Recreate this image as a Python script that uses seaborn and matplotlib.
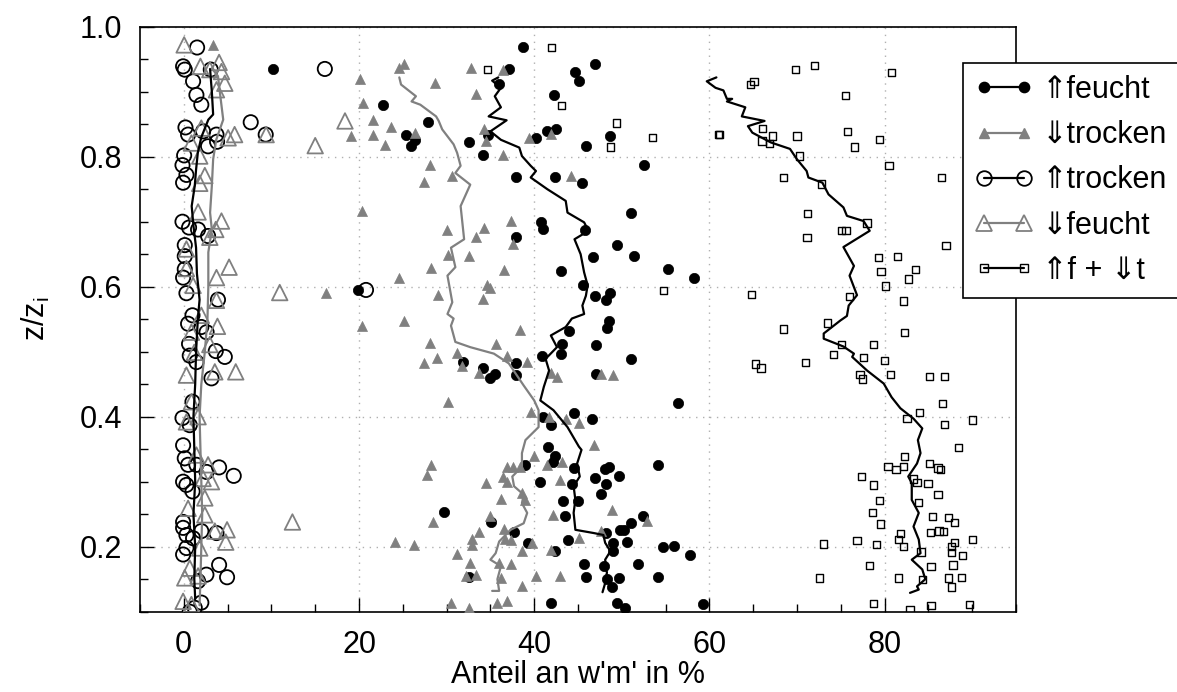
import matplotlib
matplotlib.use("Agg")
import matplotlib.pyplot as plt
import seaborn as sns
from matplotlib.lines import Line2D
from matplotlib.ticker import MultipleLocator

# ---------------- data ----------------
# ⇑feucht (filled black circles)
fu_x = [10.2, 22.7, 27.9, 25.4, 26.4, 25.9, 19.9,
        38.75, 37.1, 36.0, 44.65, 46.96, 45.1, 42.25, 41.5, 42.5, 40.2, 34.7, 32.6, 34.1, 48.6, 45.9, 52.5,
        37.95, 42.4, 45.5, 51.0, 40.8, 41.0, 37.95, 45.8, 49.5, 46.7, 51.4, 43.1, 55.25, 58.2, 45.6, 46.9,
        48.6, 48.2,
        48.5, 48.3, 44.0, 43.2, 47.1, 43.1, 40.9, 51.0, 31.9, 34.2, 37.9, 35.5, 34.95, 37.9, 47.1, 56.4,
        44.5, 46.6, 41.0, 41.9, 41.6, 42.4, 42.1, 39.0, 44.6, 48.5, 48.1, 54.1, 49.7, 46.9, 40.7, 44.3,
        48.2, 47.6, 43.3, 45.0, 43.5, 29.7, 35.1, 52.4, 51.1, 49.8, 50.3, 48.2, 37.7, 43.9, 49.0, 50.6,
        39.3, 54.7, 56.0, 57.8, 42.4, 49.0, 45.7, 48.0, 51.8, 45.9, 48.3, 49.7, 54.1, 48.9, 32.5, 41.9,
        49.5, 50.4, 59.25]
fu_y = [0.935, 0.880, 0.853, 0.833, 0.825, 0.816, 0.595,
        0.969, 0.935, 0.912, 0.931, 0.942, 0.917, 0.895, 0.840, 0.843, 0.829, 0.834, 0.822, 0.802, 0.832, 0.816, 0.787,
        0.769, 0.769, 0.759, 0.714, 0.700, 0.689, 0.676, 0.687, 0.664, 0.646, 0.647, 0.624, 0.628, 0.613, 0.602, 0.585,
        0.590, 0.579,
        0.547, 0.537, 0.532, 0.512, 0.511, 0.497, 0.493, 0.489, 0.484, 0.475, 0.482, 0.466, 0.459, 0.464, 0.466, 0.421,
        0.406, 0.396, 0.400, 0.388, 0.354, 0.340, 0.330, 0.325, 0.321, 0.322, 0.320, 0.325, 0.309, 0.305, 0.299, 0.296,
        0.297, 0.281, 0.271, 0.270, 0.248, 0.254, 0.238, 0.247, 0.236, 0.226, 0.225, 0.221, 0.223, 0.210, 0.206, 0.208,
        0.205, 0.200, 0.201, 0.187, 0.194, 0.194, 0.173, 0.171, 0.173, 0.154, 0.150, 0.152, 0.154, 0.138, 0.153, 0.113,
        0.113, 0.105, 0.112]
fu_line_x = [35.9, 35.2, 36.2, 35.5, 36.2, 34.8, 36.85, 35.0, 36.2, 38.3, 38.6, 39.6, 40.2, 39.6, 41.5, 43.6,
             43.8, 45.7, 46.2, 44.6, 45.3, 45.7, 46.1, 45.9, 45.5, 45.7, 44.3, 43.6, 41.9, 42.6, 41.3, 41.7,
             41.1, 40.7, 42.2, 43.8, 45.1, 45.4, 44.9, 45.2, 44.5, 44.7, 44.5, 44.7, 46.8, 47.9, 48.1, 48.7,
             48.1, 48.3, 48.1, 47.8]
fu_line_y = [0.922, 0.917, 0.906, 0.893, 0.876, 0.862, 0.856, 0.839, 0.826, 0.814, 0.801, 0.786, 0.778, 0.768,
             0.750, 0.732, 0.714, 0.699, 0.686, 0.673, 0.650, 0.622, 0.602, 0.586, 0.571, 0.558, 0.551, 0.538,
             0.525, 0.507, 0.489, 0.471, 0.446, 0.425, 0.410, 0.384, 0.354, 0.349, 0.328, 0.308, 0.293, 0.272,
             0.252, 0.226, 0.221, 0.218, 0.206, 0.193, 0.180, 0.160, 0.144, 0.130]

# ⇓trocken (filled grey triangles)
td_x = [3.35, 20.1, 24.6, 25.1, 28.7, 20.5, 21.6, 23.7, 19.1, 21.6, 23.0, 26.35, 28.1, 27.4, 20.3, 28.25, 24.6,
        16.2, 29.0,
        20.3, 25.1, 28.1, 27.4, 28.9, 28.2, 27.8, 28.4, 24.1, 26.3,
        32.8, 36.4, 33.4, 34.3, 34.5, 39.4, 41.9, 36.4, 30.65, 44.2, 37.3, 34.3, 30.0, 33.3, 37.6, 30.2, 32.6,
        36.55, 34.6, 34.9, 34.1,
        38.4, 35.6, 31.15, 36.85, 39.2, 31.8, 33.7, 41.9, 42.55, 47.6, 49.0, 30.2, 39.6, 41.7, 43.6, 45.1, 46.8,
        39.95, 41.5, 43.2, 36.85, 37.6, 38.4, 36.4, 36.9, 34.45, 43.0, 38.6, 39.0, 36.2, 48.9, 42.2, 35.0, 52.9,
        36.5, 33.7, 32.9, 32.9, 36.7, 37.4, 45.1, 47.6, 39.8, 38.6, 41.9, 31.2, 32.7, 36.0, 37.3, 32.25, 33.3,
        36.2, 40.2, 43.0, 38.6, 30.5, 32.55, 35.8, 36.85]
td_y = [0.972, 0.919, 0.936, 0.942, 0.914, 0.882, 0.856, 0.846, 0.832, 0.834, 0.818, 0.837, 0.788, 0.761, 0.717,
        0.629, 0.614, 0.590, 0.587,
        0.539, 0.547, 0.513, 0.483, 0.490, 0.326, 0.311, 0.238, 0.207, 0.202,
        0.936, 0.933, 0.897, 0.842, 0.824, 0.829, 0.835, 0.803, 0.770, 0.771, 0.701, 0.690, 0.688, 0.677, 0.665,
        0.649, 0.648, 0.626, 0.603, 0.598, 0.581,
        0.533, 0.512, 0.498, 0.494, 0.484, 0.478, 0.467, 0.467, 0.461, 0.465, 0.464, 0.423, 0.408, 0.400, 0.397,
        0.390, 0.356, 0.340, 0.326, 0.331, 0.322, 0.322, 0.322, 0.307, 0.299, 0.298, 0.302, 0.283, 0.272, 0.273,
        0.256, 0.249, 0.248, 0.240, 0.227, 0.223, 0.212, 0.202, 0.212, 0.210, 0.213, 0.224, 0.206, 0.194, 0.195,
        0.189, 0.175, 0.175, 0.174, 0.155, 0.156, 0.152, 0.155, 0.155, 0.140, 0.114, 0.106, 0.114, 0.116]
td_line_x = [24.6, 24.8, 26.5, 26.0, 27.0, 28.8, 29.1, 29.5, 30.8, 31.2, 31.6, 31.0, 32.7, 31.6, 32.0, 30.5,
             31.0, 30.1, 30.65, 30.1, 30.8, 30.5, 31.0, 32.7, 35.4, 37.1, 37.9, 38.8, 40.0, 40.5, 40.5, 39.0,
             38.6, 38.6, 37.5, 37.7, 38.8, 38.6, 39.2, 38.8, 37.3, 36.0, 35.6, 35.0, 36.2, 35.8, 36.0, 35.2]
td_line_y = [0.922, 0.911, 0.893, 0.885, 0.880, 0.862, 0.855, 0.842, 0.819, 0.806, 0.786, 0.775, 0.757, 0.724,
             0.673, 0.660, 0.630, 0.617, 0.576, 0.558, 0.551, 0.540, 0.515, 0.507, 0.497, 0.482, 0.466, 0.448,
             0.425, 0.410, 0.384, 0.364, 0.344, 0.323, 0.308, 0.293, 0.280, 0.267, 0.252, 0.236, 0.226, 0.208,
             0.190, 0.180, 0.170, 0.150, 0.132, 0.132]

# ⇑trocken (open black circles)
tu_x = [1.52, -0.08, 0.11, 3.08, 1.06, 1.44, 2.0, 16.1, 7.64, 9.35, 0.19, 0.49, 2.2, 3.73, 3.8, 2.77, 0.04,
        -0.15, 0.3, -0.08, -0.15, 0.6, 1.63, 2.77, 0.11, 0.11, 0.11, -0.08, 0.3, 3.9, 0.99, 20.8,
        0.49, 2.0, 2.6, 0.6, 0.68, 3.65, 4.68, 1.44, 3.16, 0.99, -0.15, 0.68, -0.08, 0.11, 0.49, 1.44, 4.03,
        5.7, -0.08, 0.3, 1.0, 2.6, -0.08, -0.08, 0.3, 1.06, 2.0, 3.73, -0.08, 0.3, 4.03, 4.94, 1.63, 2.58,
        2.0, 1.25, 0.68]
tu_y = [0.968, 0.939, 0.934, 0.934, 0.916, 0.895, 0.880, 0.935, 0.853, 0.834, 0.845, 0.834, 0.839, 0.834, 0.823,
        0.816, 0.802, 0.787, 0.772, 0.760, 0.700, 0.691, 0.688, 0.678, 0.664, 0.647, 0.627, 0.614, 0.590, 0.580,
        0.556, 0.595,
        0.543, 0.538, 0.530, 0.512, 0.494, 0.501, 0.492, 0.484, 0.459, 0.423, 0.398, 0.387, 0.356, 0.336, 0.326,
        0.326, 0.322, 0.309, 0.300, 0.295, 0.285, 0.315, 0.238, 0.229, 0.218, 0.213, 0.224, 0.221, 0.188, 0.198,
        0.172, 0.153, 0.147, 0.157, 0.114, 0.106, 0.100]
tu_line_x = [3.0, 3.2, 3.35, 2.8, 2.0, 1.6, 1.4, 1.25, 0.9, 1.1, 1.4, 1.5, 1.8, 1.6, 1.4, 1.3, 1.1, 1.2,
             1.3, 1.1, 1.3, 1.2, 1.3]
tu_line_y = [0.935, 0.900, 0.865, 0.857, 0.830, 0.806, 0.780, 0.755, 0.724, 0.694, 0.660, 0.620, 0.580, 0.550,
             0.500, 0.450, 0.400, 0.350, 0.300, 0.250, 0.200, 0.150, 0.120]

# ⇓feucht (open grey triangles)
fd_x = [0.04, 1.9, 4.03, 4.3, 4.68, 2.97, 3.73, 18.4, 9.4, 15.0, 5.8, 5.06, 2.0, 0.87, 1.82, 2.4, 1.82, 1.63,
        4.3, 3.65, 2.97, 0.3, 0.3, 5.17, 3.73, 1.06, 10.95, 3.73, 2.0,
        3.84, 0.87, 2.97, 1.2, 5.93, 3.54, 0.3, 0.87, 1.63, 0.3, 1.44, 2.77, 2.2, 3.16, 2.4, 0.49, 2.4, 4.94,
        4.79, 3.54, 1.82, 0.68, 0.11, 1.63, -0.08, 0.87, 12.4]
fd_y = [0.972, 0.939, 0.945, 0.931, 0.913, 0.934, 0.903, 0.855, 0.834, 0.817, 0.834, 0.829, 0.844, 0.821, 0.801,
        0.771, 0.759, 0.715, 0.701, 0.688, 0.676, 0.658, 0.628, 0.630, 0.614, 0.602, 0.591, 0.579, 0.556,
        0.539, 0.530, 0.511, 0.499, 0.469, 0.469, 0.464, 0.423, 0.400, 0.392, 0.341, 0.326, 0.305, 0.300, 0.275,
        0.259, 0.249, 0.226, 0.207, 0.224, 0.198, 0.167, 0.152, 0.155, 0.116, 0.111, 0.238]
fd_line_x = [3.2, 3.9, 4.2, 4.5, 3.7, 3.35, 3.2, 3.0, 3.2, 2.8, 2.8, 2.7, 2.4, 2.0, 1.8, 1.9, 2.0, 2.1, 2.0,
             1.9, 1.8]
fd_line_y = [0.936, 0.924, 0.890, 0.857, 0.826, 0.796, 0.755, 0.714, 0.688, 0.653, 0.600, 0.550, 0.500, 0.450,
             0.400, 0.350, 0.300, 0.250, 0.200, 0.150, 0.110]

# ⇑f + ⇓t (open squares)
ft_x = [42.0, 34.7, 43.1, 49.4, 48.7, 53.5, 61.0, 54.8,
        72.0, 69.85, 80.8, 65.1, 64.7, 75.5, 61.15, 66.05, 67.2, 66.0, 66.85, 70.0, 75.8, 79.4, 76.6, 70.3,
        80.5, 86.5, 68.5, 72.8, 71.2, 78.0, 75.1, 75.6, 71.15, 87.0, 79.3, 81.5, 79.6, 83.5, 82.7, 80.1, 64.8,
        76.0, 82.2,
        73.5, 68.5, 82.25, 75.1, 78.7, 74.2, 77.6, 79.97, 65.25, 65.9, 71.0, 77.2, 77.5, 80.65, 85.1, 86.85,
        86.6, 83.96, 82.55, 86.8, 90.05, 88.4, 82.25, 80.4, 81.3, 82.2, 85.1, 86.1, 86.4, 77.4, 78.7, 83.3,
        83.7, 84.95, 86.1, 79.4, 83.85, 78.6, 85.5, 87.3, 88.0, 79.55, 81.8, 81.6, 85.2, 86.2, 86.7, 82.2,
        73.0, 76.85, 79.1, 84.15, 88.0, 90.05, 87.6, 87.6, 88.9, 78.3, 85.3, 87.8, 72.6, 81.6, 84.3, 87.3,
        88.8, 87.6, 78.7, 82.9, 85.3, 89.7]
ft_y = [0.968, 0.934, 0.879, 0.852, 0.815, 0.829, 0.834, 0.594,
        0.940, 0.934, 0.930, 0.916, 0.911, 0.894, 0.834, 0.843, 0.832, 0.824, 0.820, 0.832, 0.839, 0.827, 0.815,
        0.801, 0.786, 0.768, 0.768, 0.758, 0.713, 0.698, 0.687, 0.686, 0.676, 0.663, 0.645, 0.646, 0.623, 0.627,
        0.612, 0.601, 0.588, 0.585, 0.578,
        0.544, 0.535, 0.530, 0.511, 0.511, 0.496, 0.491, 0.487, 0.481, 0.475, 0.483, 0.465, 0.458, 0.465, 0.462,
        0.462, 0.420, 0.406, 0.397, 0.388, 0.395, 0.353, 0.339, 0.323, 0.319, 0.323, 0.328, 0.321, 0.319, 0.308,
        0.295, 0.304, 0.299, 0.297, 0.280, 0.271, 0.268, 0.253, 0.247, 0.245, 0.237, 0.235, 0.220, 0.211, 0.222,
        0.224, 0.223, 0.200, 0.204, 0.209, 0.203, 0.192, 0.207, 0.211, 0.200, 0.191, 0.186, 0.171, 0.170, 0.172,
        0.152, 0.152, 0.150, 0.152, 0.153, 0.138, 0.113, 0.103, 0.110, 0.111]
ft_line_x = [60.8, 59.7, 60.7, 61.6, 62.0, 62.6, 62.0, 64.1, 63.7, 66.3, 64.4, 64.9, 67.0, 69.2, 70.0, 71.1,
             71.3, 72.9, 73.6, 75.3, 75.7, 77.6, 78.3, 75.3, 76.5, 76.0, 76.85, 75.9, 75.7, 74.95, 73.05, 73.05,
             75.3, 76.5, 76.3, 78.0, 79.9, 80.8, 81.8, 83.3, 84.3, 83.8, 84.1, 83.7, 82.7, 83.1, 83.1, 83.9,
             83.3, 83.9, 84.1, 83.1, 84.3, 84.65, 83.7, 83.9, 82.9]
ft_line_y = [0.922, 0.916, 0.906, 0.902, 0.889, 0.889, 0.885, 0.876, 0.862, 0.855, 0.847, 0.837, 0.822, 0.812,
             0.796, 0.778, 0.768, 0.760, 0.742, 0.722, 0.709, 0.701, 0.686, 0.661, 0.632, 0.617, 0.587, 0.571,
             0.555, 0.548, 0.528, 0.520, 0.508, 0.497, 0.492, 0.471, 0.451, 0.430, 0.413, 0.397, 0.382, 0.364,
             0.344, 0.328, 0.308, 0.298, 0.272, 0.252, 0.231, 0.211, 0.190, 0.180, 0.165, 0.150, 0.139, 0.134,
             0.129]

labels = ["⇑feucht", "⇓trocken", "⇑trocken", "⇓feucht", "⇑f + ⇓t"]
x_ticks = [0, 20, 40, 60, 80]
y_ticks = [0.2, 0.4, 0.6, 0.8, 1.0]

# ---------------- style ----------------
sns.set_style("white")
plt.rcParams["font.family"] = ["Liberation Sans", "DejaVu Sans"]
plt.rcParams["mathtext.fontset"] = "custom"
plt.rcParams["mathtext.rm"] = "Liberation Sans"
plt.rcParams["mathtext.it"] = "Liberation Sans:italic"
for key in ["text.color", "axes.labelcolor", "xtick.color", "ytick.color"]:
    plt.rcParams[key] = "black"

GREY = "#808080"
FS = 22

fig = plt.figure(figsize=(11.77, 6.92), dpi=100)
ax = fig.add_axes([140 / 1177, 1 - 611.7 / 692, (1016 - 140) / 1177, (611.7 - 26.7) / 692])

series = [
    dict(x=fu_x, y=fu_y, lx=fu_line_x, ly=fu_line_y, marker="o", s=55, fc="black", ec="black", lw=0.5,
         lc="black", ms=7.4),
    dict(x=td_x, y=td_y, lx=td_line_x, ly=td_line_y, marker="^", s=52, fc=GREY, ec=GREY, lw=0.5,
         lc=GREY, ms=7.4),
    dict(x=tu_x, y=tu_y, lx=tu_line_x, ly=tu_line_y, marker="o", s=105, fc="none", ec="black", lw=1.3,
         lc="black", ms=10.5),
    dict(x=fd_x, y=fd_y, lx=fd_line_x, ly=fd_line_y, marker="^", s=125, fc="none", ec=GREY, lw=1.3,
         lc=GREY, ms=11),
    dict(x=ft_x, y=ft_y, lx=ft_line_x, ly=ft_line_y, marker="s", s=27, fc="none", ec="black", lw=1.0,
         lc="black", ms=5.2),
]

handles = []
for sd, lab in zip(series, labels):
    sns.scatterplot(x=sd["x"], y=sd["y"], marker=sd["marker"], s=sd["s"], facecolors=sd["fc"],
                    edgecolors=sd["ec"], linewidths=sd["lw"], ax=ax, legend=False, zorder=3)
    sns.lineplot(x=sd["lx"], y=sd["ly"], sort=False, estimator=None, color=sd["lc"], lw=1.6, ax=ax,
                 legend=False, zorder=4)
    handles.append(Line2D([0], [0], color=sd["lc"], lw=1.6, marker=sd["marker"], markersize=sd["ms"],
                          markerfacecolor=sd["fc"], markeredgecolor=sd["ec"],
                          markeredgewidth=max(sd["lw"], 1.0)))

ax.set_xlim(-5, 95)
ax.set_ylim(0.1, 1.0)
ax.set_xticks(x_ticks)
ax.set_yticks(y_ticks)
ax.set_yticklabels([f"{v:.1f}" for v in y_ticks])
ax.xaxis.set_minor_locator(MultipleLocator(5))
ax.yaxis.set_minor_locator(MultipleLocator(0.05))
ax.tick_params(which="major", direction="in", length=10, width=1, pad=13, labelsize=FS,
               bottom=True, left=True, top=False, right=False, colors="black")
ax.tick_params(which="minor", direction="in", length=6, width=1, bottom=True, left=True,
               top=False, right=False)
ax.grid(True, which="major", color="#b0b0b0", linestyle=(0, (1, 4)), lw=1)
for sp in ax.spines.values():
    sp.set_color("black")
    sp.set_linewidth(1.2)

ax.set_xlabel("Anteil an w'm' in %", fontsize=FS, labelpad=0)
ax.set_ylabel(r"z/z$_\mathregular{i}$", fontsize=FS, labelpad=20)

leg = fig.legend(handles, labels, loc="upper left",
                 bbox_to_anchor=(962.7 / 1177, 1 - 62.7 / 692, (1200 - 962.7) / 1177, 0),
                 bbox_transform=fig.transFigure, mode="expand", borderaxespad=0, numpoints=2, fontsize=FS,
                 handlelength=1.9, handletextpad=0.3, labelspacing=0.5, borderpad=0.4,
                 frameon=True, fancybox=False, framealpha=1, edgecolor="black")
leg.get_frame().set_linewidth(1.2)

fig.savefig("out.png", dpi=100)
